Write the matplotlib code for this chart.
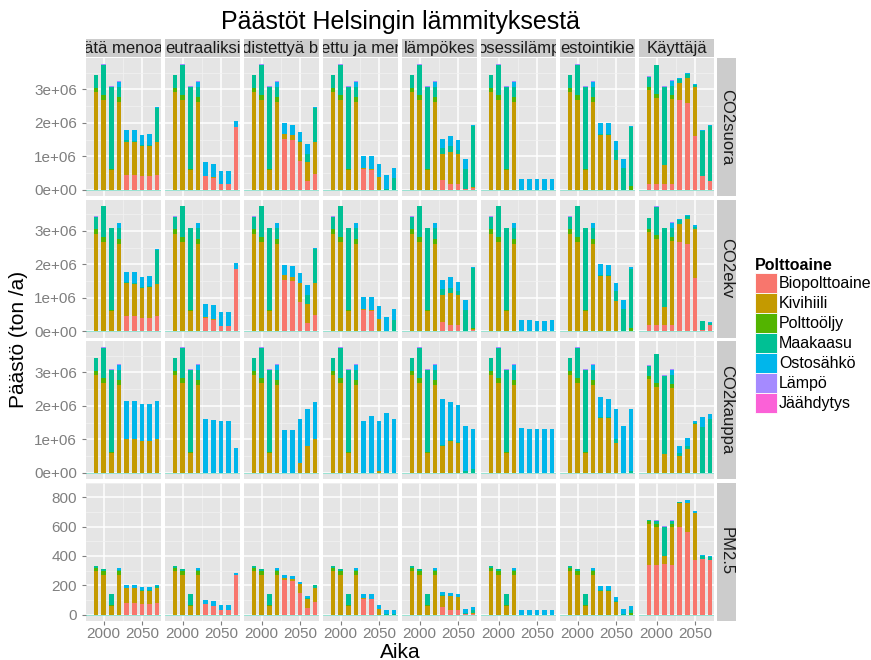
import matplotlib
matplotlib.use('Agg')
import matplotlib.pyplot as plt
from matplotlib.patches import Patch
import numpy as np

plt.rcParams['font.family'] = ['Liberation Sans', 'DejaVu Sans']

# polttoaineet ja värit (ggplot hue)
fuels = ['Biopolttoaine', 'Kivihiili', 'Polttoöljy', 'Maakaasu', 'Ostosähkö', 'Lämpö', 'Jäähdytys']
colors = ['#F8766D', '#C49A00', '#53B400', '#00C094', '#00B6EB', '#A58AFF', '#FB61D7']
# skenaariot, otsikot näkyvät kaistaleessa katkaistuina
scenarios = ['Tätä menoa', 'Neutraaliksi', 'Yhdistettyä bio', 'Tuettu ja meri',
             'Kaukolämpökeskus', 'Prosessilämpö', 'Investointikielto', 'Käyttäjä']
strip_labels = ['ätä menoa', 'eutraaliksi', 'distettyä bi', 'ettu ja mer',
                'lämpökes', 'osessilämp', 'estointikie', 'Käyttäjä']
measures = ['CO2suora', 'CO2ekv', 'CO2kauppa', 'PM2.5']
years = [1990, 2000, 2010, 2020, 2030, 2040, 2050, 2060, 2070]

# historia (4 ensimmäistä vuotta), CO2 milj. tonnia
hist_co2 = {'Kivihiili': [2.92, 2.67, 0.60, 2.62], 'Polttoöljy': [0.13, 0.15, 0.02, 0.15],
            'Maakaasu': [0.37, 0.91, 2.46, 0.31], 'Ostosähkö': [0.0, 0.0, 0.0, 0.15],
            'Lämpö': [0.02, 0.02, 0.02, 0.02]}
hist_co2_user = {'Biopolttoaine': [0.18, 0.18, 0.18, 0.18], 'Kivihiili': [2.80, 2.57, 0.55, 2.52],
                 'Polttoöljy': [0.09, 0.12, 0.0, 0.12], 'Maakaasu': [0.30, 0.85, 2.35, 0.28],
                 'Ostosähkö': [0.0, 0.0, 0.0, 0.15], 'Lämpö': [0.02, 0.02, 0.02, 0.02]}
hist_co2_user_trade = {'Kivihiili': [2.80, 2.57, 0.55, 2.52], 'Polttoöljy': [0.09, 0.12, 0.0, 0.12],
                       'Maakaasu': [0.30, 0.85, 2.35, 0.28], 'Ostosähkö': [0.0, 0.0, 0.0, 0.15],
                       'Lämpö': [0.02, 0.02, 0.02, 0.02]}
# PM2.5 tonnia
hist_pm = {'Kivihiili': [300, 270, 60, 270], 'Polttoöljy': [20, 25, 5, 25],
           'Maakaasu': [10, 15, 75, 10], 'Ostosähkö': [0, 0, 0, 10], 'Lämpö': [2, 2, 2, 2]}
hist_pm_user = {'Biopolttoaine': [340, 340, 345, 340], 'Kivihiili': [280, 260, 55, 260],
                'Polttoöljy': [15, 20, 0, 20], 'Maakaasu': [10, 20, 200, 20], 'Lämpö': [2, 2, 2, 2]}

# tulevat vuodet (5 viimeistä)
fut_suora = {
    'Tätä menoa': {'Biopolttoaine': [0.45, 0.45, 0.40, 0.40, 0.45], 'Kivihiili': [0.98, 0.97, 0.90, 0.92, 0.97],
                   'Maakaasu': [0.05, 0.03, 0.03, 0.02, 1.01], 'Ostosähkö': [0.30, 0.33, 0.30, 0.32, 0.04]},
    'Neutraaliksi': {'Biopolttoaine': [0.40, 0.35, 0.17, 0.17, 1.87], 'Kivihiili': [0.02, 0.02, 0, 0, 0],
                     'Ostosähkö': [0.40, 0.40, 0.39, 0.40, 0.18]},
    'Yhdistettyä bio': {'Biopolttoaine': [1.52, 1.49, 0.87, 0.25, 0.48], 'Kivihiili': [0.15, 0.14, 0.56, 0.57, 0.95],
                        'Maakaasu': [0, 0, 0.02, 0.26, 1.02], 'Ostosähkö': [0.31, 0.31, 0.29, 0.29, 0.03]},
    'Tuettu ja meri': {'Biopolttoaine': [0.63, 0.60, 0, 0, 0], 'Kivihiili': [0.03, 0.03, 0.38, 0, 0],
                       'Maakaasu': [0, 0, 0, 0.02, 0.35], 'Ostosähkö': [0.35, 0.38, 0.38, 0.42, 0.31]},
    'Kaukolämpökeskus': {'Biopolttoaine': [0.28, 0.18, 0.18, 0.02, 0.04], 'Kivihiili': [0.79, 0.96, 0.90, 0, 0.03],
                         'Polttoöljy': [0, 0, 0, 0, 0.02], 'Maakaasu': [0.18, 0.16, 0.12, 0.61, 1.80],
                         'Ostosähkö': [0.28, 0.31, 0.28, 0.29, 0.03]},
    'Prosessilämpö': {'Ostosähkö': [0.33, 0.33, 0.32, 0.32, 0.33]},
    'Investointikielto': {'Kivihiili': [1.64, 1.64, 0.90, 0, 0], 'Polttoöljy': [0, 0, 0, 0, 0.10],
                          'Maakaasu': [0.04, 0.03, 0.29, 0.65, 1.77], 'Ostosähkö': [0.32, 0.31, 0.26, 0.28, 0.04]},
    'Käyttäjä': {'Biopolttoaine': [2.68, 2.60, 1.60, 0.40, 0.27], 'Kivihiili': [0.52, 0.75, 1.47, 0, 0],
                 'Maakaasu': [0.12, 0.10, 0.05, 1.37, 1.63], 'Ostosähkö': [0.03, 0.03, 0.05, 0.03, 0.04]},
}
fut_ekv_user = {'Biopolttoaine': [2.68, 2.60, 1.60, 0.05, 0.20], 'Kivihiili': [0.52, 0.75, 1.47, 0, 0],
                'Maakaasu': [0.12, 0.10, 0.05, 0.25, 0.05], 'Ostosähkö': [0.03, 0.03, 0.05, 0.02, 0.02]}
fut_kauppa = {
    'Tätä menoa': {'Kivihiili': [1.0, 1.0, 0.95, 0.95, 1.0], 'Ostosähkö': [1.15, 1.15, 1.10, 1.10, 1.15]},
    'Neutraaliksi': {'Ostosähkö': [1.60, 1.58, 1.55, 1.55, 0.73]},
    'Yhdistettyä bio': {'Kivihiili': [0, 0, 0.30, 0.80, 1.00], 'Ostosähkö': [1.27, 1.27, 1.30, 1.10, 1.10]},
    'Tuettu ja meri': {'Kivihiili': [0, 0, 0.05, 0, 0], 'Ostosähkö': [1.55, 1.70, 1.50, 1.80, 1.60]},
    'Kaukolämpökeskus': {'Kivihiili': [0.80, 0.96, 0.90, 0, 0], 'Maakaasu': [0.02, 0.02, 0.02, 0.05, 0.10],
                         'Ostosähkö': [1.38, 1.12, 1.10, 1.35, 1.20]},
    'Prosessilämpö': {'Ostosähkö': [1.33, 1.32, 1.30, 1.30, 1.32]},
    'Investointikielto': {'Kivihiili': [1.64, 1.64, 0.90, 0, 0], 'Maakaasu': [0.02, 0.02, 0.10, 0, 0.05],
                          'Ostosähkö': [0.60, 0.55, 0.90, 1.40, 1.85]},
    'Käyttäjä': {'Kivihiili': [0.50, 0.70, 1.45, 0, 0], 'Maakaasu': [0.10, 0.10, 0.05, 1.37, 1.60],
                 'Ostosähkö': [0.20, 0.25, 0.05, 0.30, 0.15]},
}
fut_pm = {
    'Tätä menoa': {'Biopolttoaine': [80, 80, 70, 70, 80], 'Kivihiili': [100, 100, 95, 95, 100],
                   'Maakaasu': [2, 2, 2, 2, 15], 'Ostosähkö': [20, 20, 20, 20, 5]},
    'Neutraaliksi': {'Biopolttoaine': [70, 60, 30, 30, 270], 'Kivihiili': [2, 2, 0, 0, 0],
                     'Ostosähkö': [30, 30, 35, 35, 15]},
    'Yhdistettyä bio': {'Biopolttoaine': [235, 230, 150, 45, 85], 'Kivihiili': [15, 15, 60, 60, 100],
                        'Maakaasu': [0, 0, 1, 10, 15], 'Ostosähkö': [20, 20, 15, 15, 3]},
    'Tuettu ja meri': {'Biopolttoaine': [110, 105, 0, 0, 0], 'Kivihiili': [5, 5, 40, 0, 0],
                       'Maakaasu': [0, 0, 0, 2, 8], 'Ostosähkö': [25, 28, 28, 32, 25]},
    'Kaukolämpökeskus': {'Biopolttoaine': [50, 32, 32, 4, 7], 'Kivihiili': [80, 96, 90, 0, 3],
                         'Maakaasu': [2, 2, 2, 6, 20], 'Ostosähkö': [20, 20, 18, 30, 20]},
    'Prosessilämpö': {'Ostosähkö': [35, 35, 34, 34, 35]},
    'Investointikielto': {'Kivihiili': [165, 165, 90, 0, 0], 'Polttoöljy': [0, 0, 0, 0, 10],
                          'Maakaasu': [2, 2, 5, 8, 25], 'Ostosähkö': [30, 30, 25, 30, 25]},
    'Käyttäjä': {'Biopolttoaine': [600, 560, 370, 380, 370], 'Kivihiili': [160, 200, 320, 0, 0],
                 'Maakaasu': [5, 3, 3, 20, 20], 'Ostosähkö': [5, 15, 12, 10, 10]},
}

scale = [1e6, 1e6, 1e6, 1]
yticks = [[0, 1e6, 2e6, 3e6]] * 3 + [[0, 200, 400, 600, 800]]
ylabels = [['0e+00', '1e+06', '2e+06', '3e+06']] * 3 + [['0', '200', '400', '600', '800']]


def get_series(r, s):
    """palauttaa {polttoaine: 9 arvoa} rivin r ja skenaarion s mukaan"""
    user = s == 'Käyttäjä'
    if r == 3:
        hist = hist_pm_user if user else hist_pm
        fut = fut_pm[s]
    elif r == 2:
        hist = hist_co2_user_trade if user else hist_co2
        fut = fut_kauppa[s]
    else:
        hist = hist_co2_user if user else hist_co2
        fut = fut_ekv_user if (r == 1 and user) else fut_suora[s]
    out = {}
    for f in fuels:
        out[f] = hist.get(f, [0] * 4) + fut.get(f, [0] * 5)
    return out


W, H = 871, 660
fig = plt.figure(figsize=(W / 100, H / 100), dpi=100)


def px(x, y, w, h):
    return [x / W, 1 - (y + h) / H, w / W, h / H]


row_top = [58, 199.5, 341, 482.5]
ph, pw = 138, 75

for r, m in enumerate(measures):
    # saman rivin y-skaala
    tot_max = 0
    for s in scenarios:
        ser = get_series(r, s)
        tot_max = max(tot_max, np.sum([ser[f] for f in fuels], axis=0).max() * scale[r])
    for c, s in enumerate(scenarios):
        ax = fig.add_axes(px(86 + 79 * c, row_top[r], pw, ph))
        ax.set_facecolor('#E5E5E5')
        ser = get_series(r, s)
        bottom = np.zeros(len(years))
        for f, col in zip(fuels, colors):
            vals = np.array(ser[f], dtype=float) * scale[r]
            ax.bar(years, vals, width=6, bottom=bottom, color=col, linewidth=0, zorder=3)
            bottom += vals
        ax.axhline(0, color='#00C094', lw=0.6, alpha=0.45, zorder=2)
        ax.set_xlim(1977, 2075)
        ax.set_ylim(-0.05 * tot_max, 1.05 * tot_max)
        ax.set_xticks([2000, 2050])
        ax.set_xticks([2025], minor=True)
        yt = yticks[r]
        ax.set_yticks(yt)
        ax.set_yticks([(a + b) / 2 for a, b in zip(yt[:-1], yt[1:])] + [yt[-1] + (yt[1] - yt[0]) / 2], minor=True)
        ax.grid(which='major', color='white', lw=1.1, zorder=1)
        ax.grid(which='minor', color='#F2F2F2', lw=0.5, zorder=1)
        ax.set_axisbelow(True)
        for sp in ax.spines.values():
            sp.set_visible(False)
        ax.tick_params(which='minor', length=0)
        ax.tick_params(which='major', color='#7F7F7F', labelcolor='#7F7F7F', labelsize=11, length=3, width=0.8)
        if c == 0:
            ax.set_yticklabels(ylabels[r])
        else:
            ax.tick_params(axis='y', left=False, labelleft=False)
        if r == 3:
            ax.set_xticklabels(['2000', '2050'])
            ax.tick_params(axis='x', pad=2)
        else:
            ax.tick_params(axis='x', bottom=False, labelbottom=False)

        # sarakeotsikot
        if r == 0:
            st = fig.add_axes(px(86 + 79 * c, 38.5, pw, 18))
            st.set_facecolor('#CCCCCC')
            st.set_xticks([])
            st.set_yticks([])
            for sp in st.spines.values():
                sp.set_visible(False)
            st.text(0.5, 0.45, strip_labels[c], transform=st.transAxes, ha='center', va='center',
                    fontsize=12, color='#1A1A1A', clip_on=True)
    # rivin otsikko
    rs = fig.add_axes(px(716.5, row_top[r], 19.5, ph))
    rs.set_facecolor('#CCCCCC')
    rs.set_xticks([])
    rs.set_yticks([])
    for sp in rs.spines.values():
        sp.set_visible(False)
    rs.text(0.5, 0.5, m, transform=rs.transAxes, ha='center', va='center', rotation=-90,
            fontsize=12, color='#1A1A1A', clip_on=True)

fig.text(400 / W, 1 - 22 / H, 'Päästöt Helsingin lämmityksestä', ha='center', va='center', fontsize=18)
fig.text(400 / W, 1 - 652 / H, 'Aika', ha='center', va='center', fontsize=15)
fig.text(18 / W, 1 - 339 / H, 'Päästö (ton /a)', ha='center', va='center', rotation=90, fontsize=15)

handles = [Patch(facecolor=col, edgecolor='white', linewidth=0.6) for col in colors]
fig.legend(handles, fuels, title='Polttoaine', loc='upper left', bbox_to_anchor=(744 / W, 1 - 247 / H),
           frameon=False, fontsize=11.5, title_fontproperties={'weight': 'bold', 'size': 11.5},
           handlelength=1.35, handleheight=1.55, labelspacing=0.0, handletextpad=0.15,
           borderpad=0.2, alignment='left')

fig.savefig('out.png', dpi=100)
